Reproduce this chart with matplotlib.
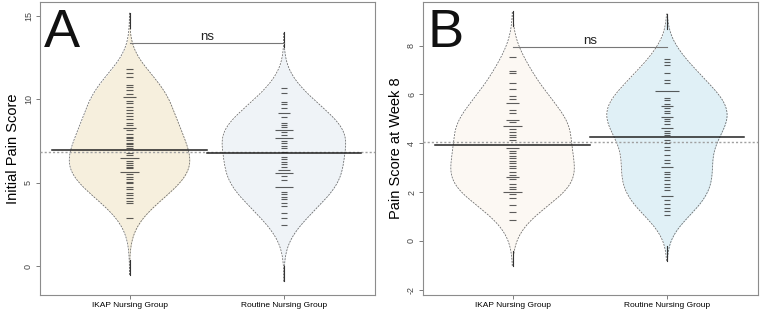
import numpy as np
import matplotlib
matplotlib.use('Agg')
import matplotlib.pyplot as plt

plt.rcParams['font.family'] = ['Liberation Sans', 'DejaVu Sans']

group_names = ['IKAP Nursing Group', 'Routine Nursing Group']

# Panel A - initial pain score (beanlines)
initial_ikap = [11.8, 11.56, 11.36, 10.86, 10.72, 10.56, 10.32, 10.16, 10.16, 9.92, 9.76, 9.52,
                9.36, 9.16, 9.0, 8.8, 8.6, 8.46, 8.26, 8.26, 8.16, 7.92, 7.76, 7.66, 7.56, 7.4,
                7.32, 7.2, 7.06, 6.76, 6.66, 6.46, 6.46, 6.46, 6.32, 6.16, 6.06, 5.96, 5.86,
                5.66, 5.66, 5.66, 5.52, 5.36, 5.2, 5.06, 4.96, 4.76, 4.6, 4.4, 4.26, 4.06,
                3.92, 3.76, 2.86]
initial_routine = [10.66, 10.4, 9.86, 9.72, 9.46, 9.2, 9.2, 8.96, 8.6, 8.46, 8.32, 8.16, 8.16,
                   8.16, 8.06, 7.86, 7.66, 7.66, 7.66, 7.52, 7.36, 7.2, 7.06, 6.86, 6.56, 6.4,
                   6.26, 6.12, 5.96, 5.76, 5.76, 5.56, 5.56, 5.56, 5.4, 5.16, 4.76, 4.76, 4.76,
                   4.46, 4.32, 4.16, 4.0, 3.76, 3.6, 3.16, 2.86, 2.46]
initial_means = [6.96, 6.76]
initial_overall = 6.86
initial_ns_y = 13.4

# Panel B - pain score at week 8
week8_ikap = [7.55, 6.97, 6.87, 6.46, 6.21, 5.94, 5.8, 5.66, 5.66, 5.36, 5.25, 4.95, 4.95, 4.88,
              4.71, 4.71, 4.71, 4.57, 4.47, 4.34, 4.24, 4.13, 3.79, 3.79, 3.69, 3.59, 3.47,
              3.38, 3.28, 3.18, 3.06, 2.97, 2.83, 2.7, 2.63, 2.63, 2.52, 2.35, 2.22, 2.11,
              2.01, 2.01, 2.01, 1.92, 1.74, 1.46, 1.19, 0.85]
week8_routine = [7.44, 7.34, 7.21, 6.89, 6.59, 6.48, 6.15, 6.15, 6.15, 6.15, 5.84, 5.77, 5.63,
                 5.53, 5.53, 5.43, 5.33, 5.23, 5.09, 5.09, 4.98, 4.92, 4.79, 4.61, 4.61, 4.51,
                 4.43, 4.34, 4.13, 4.0, 3.86, 3.72, 3.52, 3.31, 3.2, 3.04, 3.04, 2.83, 2.74,
                 2.63, 2.49, 2.33, 2.22, 2.08, 1.83, 1.83, 1.67, 1.53, 1.33, 1.23, 1.05]
week8_means = [3.92, 4.26]
week8_overall = 4.06
week8_ns_y = 7.93


def gauss_kde(vals, bw, grid):
    vals = np.asarray(vals)
    z = (grid[:, None] - vals[None, :]) / bw
    return np.exp(-0.5 * z**2).sum(axis=1) / (len(vals) * bw * np.sqrt(2 * np.pi))


def draw_beans(ax, groups, means, overall, ns_y, fills, bw, cut, ylabel, yticks, ylim, letter):
    grids, dens = [], []
    for g in groups:
        grid = np.linspace(min(g) - cut * bw, max(g) + cut * bw, 400)
        grids.append(grid)
        dens.append(gauss_kde(g, bw, grid))
    scale = 0.40 / max(d.max() for d in dens)

    ax.axhline(overall, color='#a0a0a0', linestyle=(0, (1.5, 1.5)), linewidth=1.0, zorder=3)

    for i, (g, grid, d) in enumerate(zip(groups, grids, dens)):
        pos = i + 1
        half = d * scale
        ax.fill_betweenx(grid, pos - half, pos + half, color=fills[i], linewidth=0, zorder=1)
        ax.plot(pos - half, grid, color='#666666', linestyle=(0, (2.5, 1.5)), linewidth=0.55, zorder=2)
        ax.plot(pos + half, grid, color='#666666', linestyle=(0, (2.5, 1.5)), linewidth=0.55, zorder=2)
        ax.plot([pos, pos], [grid[0], grid[0] + 0.8 * bw], color='#333333', linewidth=0.8, zorder=2)
        ax.plot([pos, pos], [grid[-1] - 0.8 * bw, grid[-1]], color='#333333', linewidth=0.8, zorder=2)
        uniq, counts = np.unique(g, return_counts=True)
        for v, c in zip(uniq, counts):
            ll = 0.02 * c
            ax.plot([pos - ll, pos + ll], [v, v], color='#1a1a1a', alpha=0.7, linewidth=0.8,
                    solid_capstyle='butt', zorder=4)
        ax.plot([pos - 0.5, pos + 0.5], [means[i], means[i]], color='#222222', linewidth=1.1, zorder=5)

    # significance bracket
    ax.plot([1, 2], [ns_y, ns_y], color='#777777', linewidth=0.8, zorder=5)
    ax.text(1.5, ns_y, 'ns', ha='center', va='bottom', fontsize=9.5, color='#222222', zorder=6)

    ax.set_xlim(0.42, 2.59)
    ax.set_ylim(*ylim)
    ax.set_xticks([1, 2])
    ax.set_xticklabels(group_names, fontsize=6)
    ax.set_yticks(yticks)
    ax.set_yticklabels([str(t) for t in yticks], fontsize=6.5, color='#444444', rotation=90, va='center')
    ax.tick_params(axis='both', length=3, width=0.6, color='#666666', pad=2)
    ax.set_ylabel(ylabel, fontsize=10.5, labelpad=3)
    for sp in ax.spines.values():
        sp.set_color('#8c8c8c')
        sp.set_linewidth(0.8)
    ax.text(0.012, 0.848, letter, transform=ax.transAxes, fontsize=39, color='#111111',
            ha='left', va='baseline', zorder=7)


fig = plt.figure(figsize=(7.6, 3.1), dpi=100)
ax_a = fig.add_axes([0.0526, 0.0484, 0.4408, 0.945])
ax_b = fig.add_axes([0.5566, 0.0484, 0.4408, 0.945])

draw_beans(ax_a, [initial_ikap, initial_routine], initial_means, initial_overall, initial_ns_y,
           ['#f6efdd', '#eff3f7'], 1.13, 3.0, 'Initial Pain Score', [0, 5, 10, 15], (-1.74, 15.84), 'A')
draw_beans(ax_b, [week8_ikap, week8_routine], week8_means, week8_overall, week8_ns_y,
           ['#fcf8f3', '#e0f0f6'], 0.78, 2.4, 'Pain Score at Week 8', [-2, 0, 2, 4, 6, 8], (-2.22, 9.79), 'B')

fig.savefig('out.png', dpi=100)
